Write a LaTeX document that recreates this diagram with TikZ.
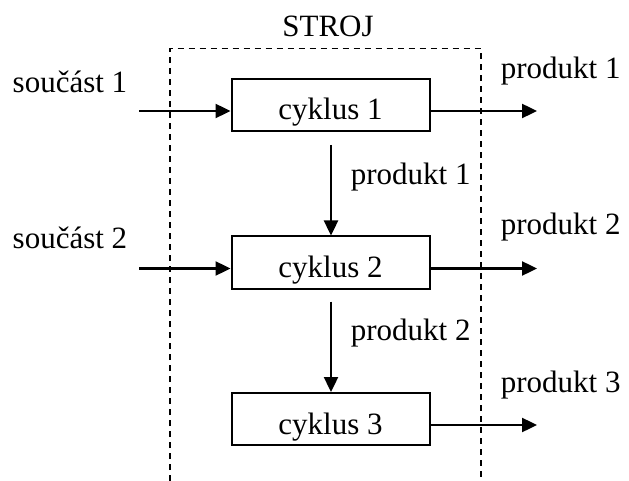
\documentclass[tikz,border=0pt]{standalone}
\usepackage{fontspec}
\setmainfont{Liberation Serif}
\usetikzlibrary{arrows.meta,calc}
\begin{document}
\begin{tikzpicture}[x=1bp,y=-1bp,
  every node/.style={font=\fontsize{31bp}{37bp}\selectfont},
  cyc/.style={draw,line width=2bp,minimum width=198bp,inner xsep=0pt,inner ysep=3bp,text height=38bp,text depth=8bp},
  lbl/.style={anchor=base west,inner sep=0pt},
  flow/.style={line width=2.4bp,-{Triangle[length=15bp,width=14bp]}},
  border/.style={line width=1.6bp,dash pattern=on 6bp off 5bp}]
\useasboundingbox (0,0) rectangle (629,481);
\draw[border] (170,481) -- (170,48.5) -- (481,48.5) -- (481,481);
\node[anchor=base,inner sep=0pt] (stroj) at (328,36.5) {STROJ};
\node[cyc] (c1) at (330.5,105) {cyklus 1};
\node[cyc] (c2) at (330.5,262.5) {cyklus 2};
\node[cyc] (c3) at (330.5,419) {cyklus 3};
\coordinate (in1) at (139,111);
\coordinate (in2) at (139,268.5);
\coordinate (out1) at (537,111);
\coordinate (out2) at (537,268.5);
\coordinate (out3) at (537,425);
\draw[flow] (in1) -- (in1 -| c1.west);
\draw[flow] (in2) -- (in2 -| c2.west);
\draw[flow] (out1 -| c1.east) -- (out1);
\draw[flow] (out2 -| c2.east) -- (out2);
\draw[flow] (out3 -| c3.east) -- (out3);
\draw[flow] ($(c1.south)+(0.5,13)$) -- ($(c2.north)+(0.5,0)$);
\draw[flow] ($(c2.south)+(0.5,12)$) -- ($(c3.north)+(0.5,0)$);
\node[lbl] (s1) at (12.5,92.7) {součást 1};
\node[lbl] (s2) at (12.5,248.7) {součást 2};
\node[lbl] (p1o) at (500.7,79) {produkt 1};
\node[lbl] (p2o) at (500.7,235) {produkt 2};
\node[lbl] (p3o) at (500.7,392.5) {produkt 3};
\node[lbl] (p1m) at (350.7,185) {produkt 1};
\node[lbl] (p2m) at (350.7,340.5) {produkt 2};
\end{tikzpicture}
\end{document}
